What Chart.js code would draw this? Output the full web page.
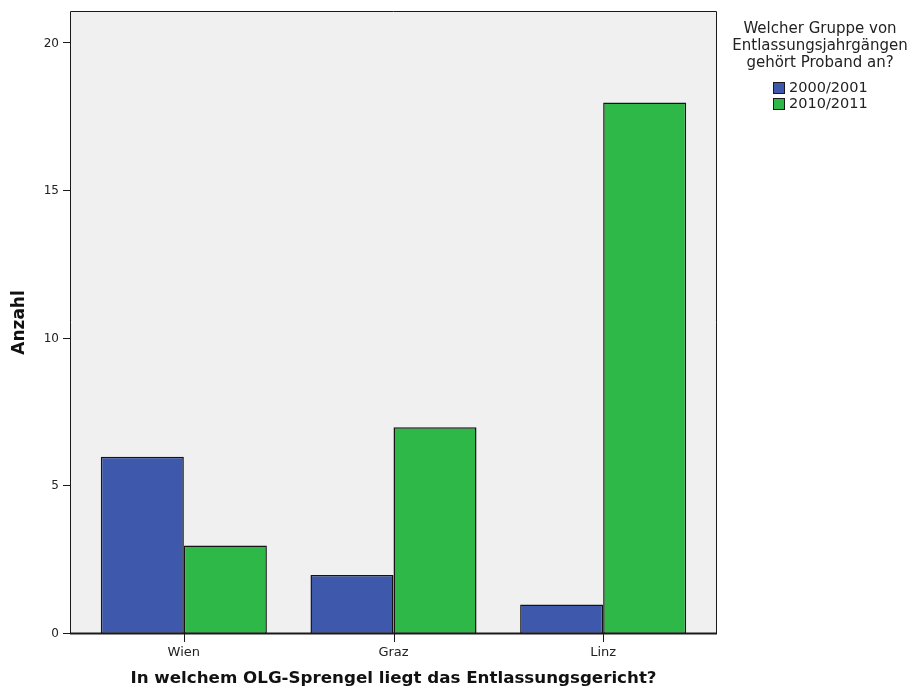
<!DOCTYPE html>
<html>
<head>
<meta charset="utf-8">
<style>
  html, body { margin: 0; padding: 0; background: #ffffff; }
  #wrap { width: 919px; height: 690px; }
</style>
<script src="https://cdn.jsdelivr.net/npm/chart.js@4/dist/chart.umd.min.js"></script>
</head>
<body>
<div id="wrap"><canvas id="chart" width="919" height="690"></canvas></div>
<script>
// Counts per OLG district, split by release cohort
const categories = ['Wien', 'Graz', 'Linz'];
const seriesNames = ['2000/2001', '2010/2011'];
const counts2000 = [6, 2, 1];
const counts2010 = [3, 7, 18];
const yTickValues = [0, 5, 10, 15, 20];
const yMax = 21.1;

const legendTitle = ['Welcher Gruppe von', 'Entlassungsjahrgängen', 'gehört Proband an?'];
const xTitle = 'In welchem OLG-Sprengel liegt das Entlassungsgericht?';
const yTitle = 'Anzahl';

const FONT = '"DejaVu Sans", Verdana, sans-serif';
const TEXT = '#222222';
const FRAME_EXT = 9;   // plot frame reaches a little past the category band

// Grey plot panel, frame and tick marks around the chart area
const framePlugin = {
  id: 'frame',
  beforeDraw(chart) {
    const { ctx, chartArea: a } = chart;
    ctx.save();
    ctx.fillStyle = '#ffffff';
    ctx.fillRect(0, 0, chart.width, chart.height);
    ctx.fillStyle = '#f0f0f0';
    ctx.fillRect(a.left - FRAME_EXT, a.top, a.right - a.left + 2 * FRAME_EXT, a.bottom - a.top);
    ctx.restore();
  },
  afterDatasetsDraw(chart) {
    const { ctx, chartArea: a, scales } = chart;
    const l = a.left - FRAME_EXT, r = a.right + FRAME_EXT;
    ctx.save();
    ctx.strokeStyle = '#1a1a1a';
    ctx.lineWidth = 1;
    ctx.beginPath();
    ctx.moveTo(l + 0.5, a.bottom);
    ctx.lineTo(l + 0.5, a.top + 0.5);
    ctx.lineTo(r - 0.5, a.top + 0.5);
    ctx.lineTo(r - 0.5, a.bottom);
    ctx.stroke();
    // x axis line
    ctx.lineWidth = 2;
    ctx.beginPath();
    ctx.moveTo(l, a.bottom - 0.5);
    ctx.lineTo(r, a.bottom - 0.5);
    ctx.stroke();
    // y tick marks
    ctx.lineWidth = 1;
    ctx.beginPath();
    scales.y.ticks.forEach(t => {
      const y = Math.round(scales.y.getPixelForValue(t.value)) - 0.5;
      ctx.moveTo(l - 7, y);
      ctx.lineTo(l, y);
    });
    // x tick marks at category centres
    categories.forEach((c, i) => {
      const x = Math.round(scales.x.getPixelForValue(i)) + 0.5;
      ctx.moveTo(x, a.bottom);
      ctx.lineTo(x, a.bottom + 8);
    });
    ctx.stroke();
    ctx.restore();
  },
  afterDraw(chart) {
    // legend: wrapped title and one swatch per dataset
    const { ctx } = chart;
    const cx = 820;
    ctx.save();
    ctx.fillStyle = TEXT;
    ctx.textAlign = 'center';
    ctx.textBaseline = 'middle';
    ctx.font = '15px ' + FONT;
    legendTitle.forEach((line, i) => ctx.fillText(line, cx, 29 + i * 17));
    ctx.font = '14.5px ' + FONT;
    ctx.textAlign = 'left';
    chart.data.datasets.forEach((ds, i) => {
      const y = 82 + i * 16;
      ctx.fillStyle = ds.backgroundColor;
      ctx.fillRect(773, y, 12, 12);
      ctx.strokeStyle = '#1a1a1a';
      ctx.lineWidth = 1;
      ctx.strokeRect(773.5, y + 0.5, 11, 11);
      ctx.fillStyle = TEXT;
      ctx.fillText(ds.label, 789, y + 6.5);
    });
    ctx.restore();
  }
};

new Chart(document.getElementById('chart'), {
  type: 'bar',
  data: {
    labels: categories,
    datasets: [
      { label: seriesNames[0], data: counts2000, backgroundColor: '#3e58ac' },
      { label: seriesNames[1], data: counts2010, backgroundColor: '#2eb848' }
    ]
  },
  options: {
    responsive: false,
    devicePixelRatio: 1,
    animation: false,
    layout: { padding: { left: 0, right: 211, top: 11, bottom: 0 } },
    datasets: {
      bar: {
        borderColor: '#141414',
        borderWidth: 1.5,
        borderSkipped: false,
        categoryPercentage: 0.792,
        barPercentage: 1
      }
    },
    plugins: {
      legend: { display: false },
      tooltip: { enabled: false }
    },
    scales: {
      x: {
        grid: { display: false, drawTicks: false },
        border: { display: false },
        ticks: { color: TEXT, font: { family: FONT, size: 13 }, padding: 11 },
        title: {
          display: true,
          text: xTitle,
          color: '#111111',
          font: { family: FONT, size: 16.7, weight: 'bold' },
          padding: { top: 0, bottom: 1 }
        },
        afterFit(scale) {
          scale.height = 56;
          scale.paddingLeft = 0;
          scale.paddingRight = 0;
        }
      },
      y: {
        min: 0,
        max: yMax,
        grid: { display: false, drawTicks: false },
        border: { display: false },
        afterBuildTicks(scale) { scale.ticks = yTickValues.map(v => ({ value: v })); },
        ticks: { color: TEXT, font: { family: FONT, size: 12 }, padding: 20 },
        title: {
          display: true,
          text: yTitle,
          color: '#111111',
          font: { family: FONT, size: 17, weight: 'bold' },
          padding: { top: 9, bottom: 0 }
        },
        afterFit(scale) {
          scale.width = 79;
          scale.paddingTop = 0;
          scale.paddingBottom = 0;
        }
      }
    }
  },
  plugins: [framePlugin]
});
</script>
</body>
</html>
